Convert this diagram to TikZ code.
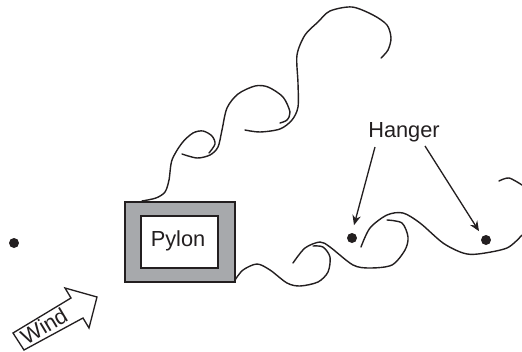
\documentclass[tikz,border=0pt]{standalone}
\usepackage{fontspec}
\setmainfont{Liberation Sans}
\usepackage{xcolor}
\usetikzlibrary{arrows.meta,positioning}
\definecolor{inkblack}{HTML}{231F20}
\definecolor{pylongray}{HTML}{A7A9AC}

\begin{document}
\begin{tikzpicture}[
    x=0.02cm, y=-0.02cm,
    wake/.style={draw=inkblack, line width=0.8pt, line cap=round},
    smoothwake/.style={smooth, tension=0.5},
    hangerdot/.style={circle, fill=inkblack, inner sep=0pt, minimum size=0.2cm},
    label/.style={font=\fontsize{12.4}{14}\selectfont, text=inkblack, inner sep=0pt},
    arrow/.style={-{Stealth[length=0.2cm,width=0.17cm]}, draw=inkblack, line width=0.75pt}
]
\useasboundingbox (0,0) rectangle (522,352);

% Pylon
\node[draw=inkblack, fill=pylongray, line width=0.8pt, minimum width=2.2cm, minimum height=1.6cm, inner sep=0pt] (casing) at (180,242) {};
\node[draw=inkblack, fill=white, line width=0.8pt, minimum width=1.54cm, minimum height=1.04cm, inner sep=0pt] (core) at (179.5,242) {};
\node[label] (pylon) at (178,241) {Pylon};

% Hanger points
\node[hangerdot] (dotfar) at (14,243) {};
\node[hangerdot] (dotleft) at (352,238) {};
\node[hangerdot] (dotright) at (486,240) {};

% Label and leaders
\node[label] (hanger) at (404,132) {Hanger};
\coordinate (leadleft) at (375,147);
\coordinate (leadright) at (425,146);
\draw[arrow, shorten >=4.4pt] (leadleft) -- (dotleft.north);
\draw[arrow, shorten >=3.4pt] (leadright) -- (dotright.north west);

% Upper vortex street
\draw[wake] plot[smoothwake] coordinates {(142,201) (156,198) (165,192) (169,180) (172,160) (182,143) (193,133) (203,131) (212,136) (215,144) (209,153)};
\draw[wake] plot[smoothwake] coordinates {(182,154) (197,158) (210,155) (218,147) (222,130) (227,108) (238,94) (255,86) (268,87) (283,97) (290,112) (287,120) (280,123)};
\draw[wake] plot[smoothwake] coordinates {(245,130) (260,132) (280,129) (292,120) (298,107) (298,83) (297,55) (305,35) (318,22) (330,11) (352,7) (373,15) (387,25) (391,38) (388,50) (381,58)};

% Lower vortex street
\draw[wake] plot[smoothwake] coordinates {(235,280) (243,270) (257,264) (270,270) (287,283) (300,286) (318,282) (328,272) (330,257) (323,247) (313,246)};
\draw[wake] plot[smoothwake] coordinates {(293,263) (305,248) (320,242) (330,247) (353,265) (370,268) (392,265) (405,250) (408,237) (402,223) (387,220)};
\draw[wake] plot[smoothwake] coordinates {(361,247) (370,228) (387,215) (403,213) (420,223) (443,243) (463,253) (478,254) (507,248) (522,235)};
\draw[wake] plot[smoothwake] coordinates {(499,181) (509,178) (522,185)};

% Wind arrow
\draw[draw=inkblack, line width=0.75pt, fill=white] (13,333) -- (71,298) -- (65,288) -- (97,297) -- (89,328) -- (83,318) -- (24,350) -- cycle;
\node[label, rotate=31] (wind) at (44,326) {Wind};

\end{tikzpicture}
\end{document}
